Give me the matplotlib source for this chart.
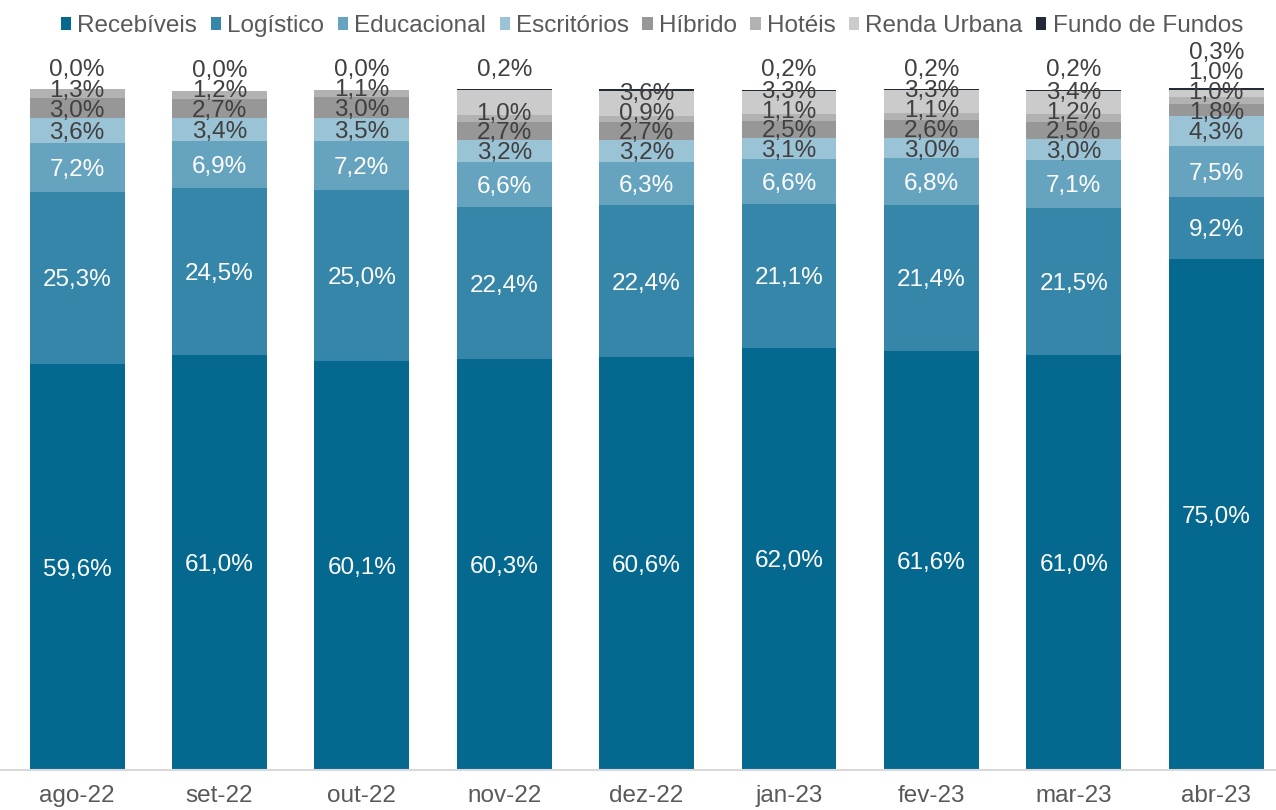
import numpy as np
import matplotlib
matplotlib.use("Agg")
import matplotlib.pyplot as plt
from matplotlib.patches import Patch

plt.rcParams['font.family'] = ['Liberation Sans', 'DejaVu Sans']

categories = ["ago-22", "set-22", "out-22", "nov-22", "dez-22", "jan-23", "fev-23", "mar-23", "abr-23"]
series_names = ["Recebíveis", "Logístico", "Educacional", "Escritórios", "Híbrido", "Hotéis", "Renda Urbana", "Fundo de Fundos"]
recebiveis   = [59.6, 61.0, 60.1, 60.3, 60.6, 62.0, 61.6, 61.0, 75.0]
logistico    = [25.3, 24.5, 25.0, 22.4, 22.4, 21.1, 21.4, 21.5, 9.2]
educacional  = [7.2, 6.9, 7.2, 6.6, 6.3, 6.6, 6.8, 7.1, 7.5]
escritorios  = [3.6, 3.4, 3.5, 3.2, 3.2, 3.1, 3.0, 3.0, 4.3]
hibrido      = [3.0, 2.7, 3.0, 2.7, 2.7, 2.5, 2.6, 2.5, 1.8]
hoteis       = [1.3, 1.2, 1.1, 1.0, 0.9, 1.1, 1.1, 1.2, 1.0]
renda_urbana = [np.nan, np.nan, np.nan, 3.6, 3.6, 3.3, 3.3, 3.4, 1.0]
fundo_fundos = [0.0, 0.04, 0.0, 0.2, 0.3, 0.2, 0.2, 0.2, 0.3]
# labels not displayed in the reference
hidden = {(6, 3), (7, 4)}

colors = ["#05688F", "#3686A9", "#66A3BF", "#9AC3D5", "#979797", "#B2B2B2", "#CBCBCB", "#232A35"]
label_colors = ["white", "white", "white", "#404040", "#404040", "#404040", "#404040", "#404040"]

data = np.array([recebiveis, logistico, educacional, escritorios, hibrido, hoteis, renda_urbana, fundo_fundos], dtype=float)

W, H = 1276, 810
fig = plt.figure(figsize=(W / 100, H / 100), dpi=100)
y0_px, y100_px = 770, 89
ymax = 110
bottom = (H - y0_px) / H
height = (y0_px - y100_px) / H * ymax / 100
ax = fig.add_axes([0, bottom, 1, height])
x = np.arange(len(categories))
ax.set_xlim(-0.541, 8.42)
ax.set_ylim(0, ymax)

fs = 17.5
vals = np.nan_to_num(data)
cum = np.zeros(len(categories))
for s in range(len(series_names)):
    ax.bar(x, vals[s], bottom=cum, width=0.667, color=colors[s], linewidth=0, zorder=2)
    cum = cum + vals[s]

gap = 2.9
starts = np.vstack([np.zeros(len(categories)), np.cumsum(vals, axis=0)[:-1]])
for i in range(len(categories)):
    prev = None
    total = vals[:, i].sum()
    for s in range(len(series_names)):
        v = data[s, i]
        if np.isnan(v):
            continue
        c = starts[s, i] + v / 2
        if s <= 2:
            y = c
        elif s == 7:
            y = max(total + 3.2, prev + gap)
        else:
            y = max(c, prev + gap)
        prev = y
        if (s, i) in hidden:
            continue
        ax.text(x[i], y, f"{v:.1f}%".replace(".", ","), ha="center", va="center_baseline",
                fontsize=fs, color=label_colors[s], zorder=5, clip_on=False)

ax.set_xticks(x)
ax.set_xticklabels(categories, fontsize=fs, color="#595959")
ax.tick_params(axis="x", length=0, pad=11)
ax.set_yticks([])
for sp in ["left", "right", "top"]:
    ax.spines[sp].set_visible(False)
ax.spines["bottom"].set_color("#D9D9D9")
ax.spines["bottom"].set_linewidth(1.5)
ax.set_facecolor("none")

handles = [Patch(facecolor=c, edgecolor="none") for c in colors]
leg = fig.legend(handles, series_names, loc="center", bbox_to_anchor=(652 / W, 1 - 26 / H),
                 ncol=8, frameon=False, fontsize=fs, handlelength=0.42, handleheight=0.42,
                 handletextpad=0.25, columnspacing=0.56, borderaxespad=0, borderpad=0)
for t in leg.get_texts():
    t.set_color("#595959")

fig.savefig("out.png", dpi=100)
